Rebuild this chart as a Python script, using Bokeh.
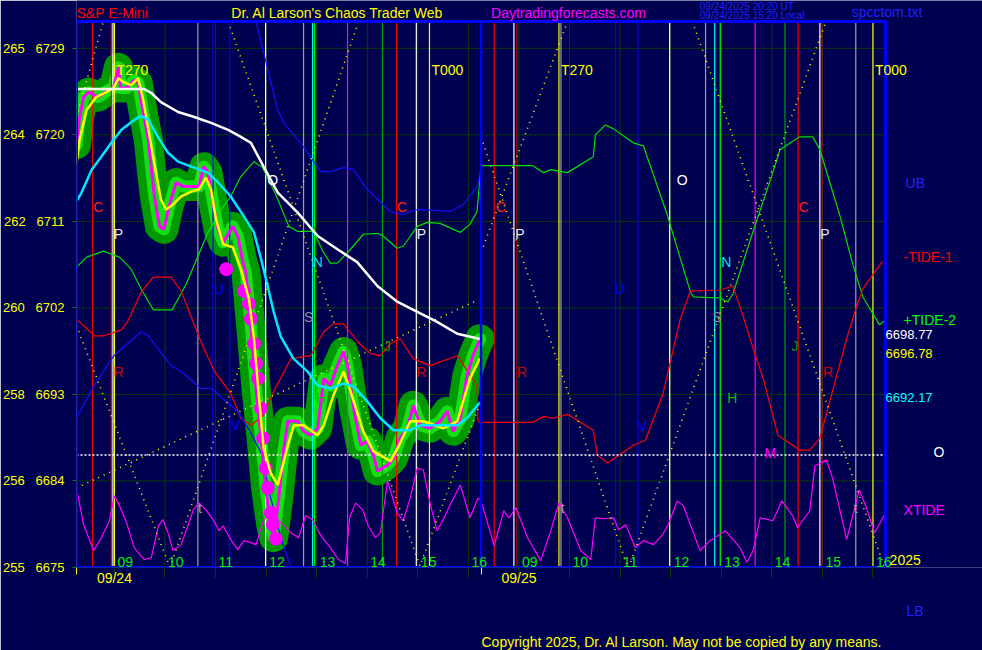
import numpy as np
from bokeh.plotting import figure
from bokeh.models import Range1d, FixedTicker, Title
from bokeh.core.properties import value
from bokeh.embed import file_html
from bokeh.resources import INLINE

FONT = "Liberation Sans"
BG = "#000050"

# ---------------- data (clock hours, prices) ----------------
price_ticks = [6675, 6684, 6693, 6702, 6711, 6720, 6729]
deg_ticks = [255, 256, 258, 260, 262, 264, 265]
hours = [9, 10, 11, 12, 13, 14, 15, 16]
day_labels = ["09/24", "09/25"]
chart_top = 6731.8

# long moving average (white)
white_t = [8.25, 9.59, 9.73, 9.92, 10.26, 10.58, 10.91, 11.25, 11.50, 11.70, 11.95, 12.23, 12.62,
           13.02, 13.41, 13.80, 14.20, 14.60, 14.99, 15.38, 15.78, 16.23]
white_v = [6724.76, 6724.76, 6724.35, 6723.41, 6722.38, 6721.86, 6721.24, 6720.52, 6719.79, 6719.17,
           6716.69, 6714.0, 6711.93, 6709.48, 6708.10, 6706.76, 6704.28, 6702.62, 6701.59, 6700.55,
           6699.31, 6698.77]

# short moving average (cyan)
cyan_t = [8.25, 8.35, 8.55, 8.74, 8.94, 9.14, 9.39, 9.53, 9.67, 9.86, 10.06, 10.26, 10.52, 10.85,
          11.05, 11.30, 11.56, 11.76, 11.90, 12.03, 12.15, 12.29, 12.54, 12.82, 13.02, 13.27, 13.53,
          13.73, 14.00, 14.26, 14.52, 14.85, 15.05, 15.50, 15.78, 15.97, 16.23]
cyan_v = [6713.07, 6714.0, 6716.38, 6717.72, 6719.17, 6720.52, 6721.55, 6721.97, 6721.55, 6719.79,
          6718.14, 6717.21, 6716.69, 6716.07, 6715.04, 6713.59, 6711.52, 6709.86, 6707.07, 6704.28,
          6701.59, 6699.0, 6696.72, 6695.38, 6693.93, 6693.62, 6694.14, 6693.83, 6692.28, 6690.52,
          6689.28, 6689.28, 6689.79, 6689.79, 6689.79, 6690.52, 6692.17]

# smoothed price (yellow)
yel_t = [8.25, 8.31, 8.45, 8.64, 8.84, 8.98, 9.08, 9.18, 9.33, 9.47, 9.57, 9.69, 9.83, 9.92, 10.02,
         10.16, 10.32, 10.52, 10.67, 10.81, 10.91, 11.01, 11.15, 11.34, 11.50, 11.66, 11.76, 11.86,
         11.95, 12.09, 12.23, 12.43, 12.55, 12.74, 13.02, 13.14, 13.33, 13.53, 13.67, 13.92, 14.12,
         14.46, 14.60, 14.85, 15.11, 15.50, 15.78, 16.03, 16.23]
yel_v = [6716.90, 6719.48, 6722.59, 6723.93, 6724.45, 6724.86, 6725.90, 6725.48, 6725.17, 6725.90,
         6723.62, 6720.0, 6715.86, 6713.28, 6712.24, 6712.76, 6713.59, 6714.10, 6714.31, 6715.55,
         6714.31, 6711.21, 6708.62, 6708.31, 6706.03, 6702.93, 6698.79, 6692.59, 6687.41, 6684.83,
         6683.59, 6687.72, 6689.79, 6689.79, 6688.76, 6689.79, 6692.90, 6695.38, 6693.31, 6689.17,
         6687.10, 6686.07, 6687.41, 6690.21, 6690.21, 6689.48, 6690.21, 6694.66, 6696.78]

# raw price (magenta)
px_t = [8.25, 8.31, 8.39, 8.49, 8.68, 8.88, 8.98, 9.08, 9.12, 9.24, 9.39, 9.47, 9.57, 9.67, 9.73,
        9.79, 9.89, 9.98, 10.08, 10.22, 10.36, 10.52, 10.67, 10.77, 10.85, 10.95, 11.05, 11.15,
        11.34, 11.44, 11.54, 11.60, 11.70, 11.80, 11.90, 11.99, 12.09, 12.15, 12.25, 12.35, 12.43,
        12.62, 12.74, 12.88, 13.02, 13.14, 13.27, 13.41, 13.53, 13.61, 13.73, 13.87, 14.00, 14.12,
        14.20, 14.40, 14.52, 14.65, 14.79, 14.91, 15.05, 15.24, 15.44, 15.58, 15.70, 15.84, 15.97,
        16.09, 16.23]
px_v = [6718.97, 6721.76, 6723.93, 6724.45, 6723.93, 6724.66, 6724.86, 6727.03, 6724.86, 6724.86,
        6725.69, 6725.38, 6722.28, 6719.48, 6716.38, 6713.59, 6710.48, 6710.17, 6712.55, 6715.04,
        6714.62, 6714.62, 6714.62, 6716.69, 6716.07, 6712.97, 6710.17, 6708.83, 6710.48, 6709.45,
        6706.76, 6705.72, 6699.83, 6693.62, 6688.45, 6683.28, 6679.45, 6678.10, 6682.24, 6687.41,
        6690.21, 6690.21, 6689.17, 6688.76, 6689.48, 6694.66, 6693.93, 6696.0, 6697.45, 6696.0,
        6691.55, 6687.72, 6688.14, 6686.69, 6685.03, 6685.66, 6686.38, 6688.45, 6689.48, 6691.86,
        6689.79, 6689.48, 6690.21, 6691.24, 6689.17, 6690.52, 6694.97, 6697.03, 6698.79]

# sell signal dots (magenta)
sig_t = [11.21, 11.56, 11.66, 11.70, 11.76, 11.80, 11.84, 11.90, 11.94, 11.99, 12.03, 12.09, 12.13, 12.19]
sig_v = [6706.03, 6703.76, 6702.41, 6700.86, 6698.28, 6696.21, 6694.66, 6691.55, 6688.45, 6685.34,
         6683.28, 6680.69, 6679.45, 6678.0]

# +TIDE-2 (green)
t2_d1_t = [8.25, 8.45, 8.78, 9.10, 9.33, 9.53, 9.77, 10.14, 10.42, 10.85, 11.11, 11.30, 11.50, 11.76,
           11.93, 12.19, 12.45, 12.62, 12.94, 13.12, 13.27, 13.41, 13.67, 13.92, 14.20, 14.32, 14.59,
           14.71, 14.85, 14.99, 15.19, 15.44, 15.84, 16.03, 16.17]
t2_d1_v = [6706.24, 6707.28, 6707.90, 6707.28, 6706.03, 6703.97, 6701.79, 6701.79, 6704.48, 6709.86,
           6712.24, 6713.59, 6715.66, 6717.21, 6716.59, 6713.79, 6710.48, 6709.97, 6709.97, 6707.90,
           6706.66, 6706.66, 6708.10, 6709.66, 6709.76, 6709.45, 6708.21, 6708.41, 6709.45, 6710.48,
           6710.90, 6710.79, 6709.86, 6710.69, 6712.03]
t2_d2_t = [8.25, 9.27, 9.49, 9.63, 9.96, 10.47, 10.51, 10.71, 10.87, 11.26, 11.46, 11.93, 12.39, 12.45,
           12.98, 13.13, 13.23, 13.63, 14.02, 14.16, 14.55, 14.81, 14.95, 15.34, 15.60, 15.80, 16.13, 16.23]
t2_d2_v = [6716.79, 6716.79, 6716.07, 6716.38, 6716.07, 6717.72, 6720.0, 6721.03, 6720.62, 6719.17,
           6718.86, 6711.72, 6703.66, 6703.14, 6703.03, 6702.62, 6703.45, 6709.97, 6716.07, 6718.45,
           6719.79, 6719.79, 6718.45, 6711.72, 6706.55, 6703.14, 6700.24, 6700.66]

# -TIDE-1 (red)
t1_d1_t = [8.25, 8.60, 8.80, 9.14, 9.27, 9.53, 9.77, 10.12, 10.32, 10.71, 10.97, 11.30, 11.50, 11.70,
           11.95, 12.15, 12.49, 12.88, 13.14, 13.33, 13.53, 13.81, 14.06, 14.26, 14.46, 14.65, 14.91,
           15.24, 15.78, 16.17, 16.19]
t1_d1_v = [6700.86, 6699.10, 6699.10, 6699.72, 6700.66, 6703.66, 6705.21, 6705.21, 6703.76, 6698.48,
           6695.48, 6693.10, 6690.52, 6689.79, 6690.83, 6693.31, 6696.72, 6697.03, 6699.52, 6700.34,
           6700.34, 6698.48, 6697.24, 6697.03, 6698.28, 6698.79, 6696.72, 6696.0, 6697.03, 6693.93,
           6690.21]
t1_d2_t = [8.25, 9.27, 9.49, 9.67, 9.96, 10.47, 10.55, 10.75, 11.26, 11.50, 11.85, 12.19, 12.39, 12.98,
           13.23, 13.43, 13.63, 13.83, 14.12, 14.55, 14.75, 14.95, 15.48, 15.60, 15.68, 15.80, 16.19]
t1_d2_v = [6690.10, 6690.10, 6690.72, 6690.52, 6690.93, 6689.28, 6686.69, 6685.86, 6687.72, 6688.24,
           6693.10, 6700.86, 6703.76, 6703.86, 6704.28, 6701.17, 6697.76, 6694.66, 6688.76, 6687.21,
           6687.21, 6688.45, 6698.79, 6700.86, 6702.21, 6703.97, 6706.86]

# upper / lower bands (blue)
ub_t = [11.80, 12.23, 12.35, 12.68, 13.08, 13.27, 13.53, 13.73, 14.00, 14.46, 14.71, 14.99, 15.64,
        15.90, 16.17, 16.21]
ub_v = [6731.79, 6722.59, 6721.24, 6719.17, 6716.17, 6716.17, 6716.59, 6716.38, 6714.31, 6712.03,
        6711.72, 6712.24, 6712.03, 6712.76, 6714.62, 6715.55]
lb_t = [8.25, 8.60, 8.99, 9.53, 9.67, 10.12, 10.32, 10.71, 10.91, 11.44, 11.70, 11.90, 12.09, 12.29, 12.49]
lb_v = [6690.52, 6693.93, 6697.03, 6699.52, 6699.10, 6696.0, 6695.38, 6693.62, 6693.62, 6691.24,
        6688.97, 6686.90, 6682.24, 6678.10, 6675.0]

# XTIDE (magenta oscillator, plotted on price scale)
xt_d1_t = [8.25, 8.39, 8.59, 8.74, 8.90, 9.0, 9.10, 9.24, 9.39, 9.59, 9.73, 9.87, 9.96, 10.06, 10.16,
           10.32, 10.44, 10.56, 10.67, 10.81, 10.95, 11.07, 11.15, 11.30, 11.44, 11.56, 11.70, 11.80,
           11.93, 12.09, 12.29, 12.49, 12.64, 12.78, 12.92, 13.08, 13.27, 13.43, 13.57, 13.65, 13.77,
           13.91, 14.02, 14.16, 14.26, 14.40, 14.59, 14.71, 14.85, 14.99, 15.11, 15.24, 15.38, 15.50,
           15.64, 15.84, 16.03, 16.19]
xt_d1_v = [6683.28, 6679.45, 6676.76, 6678.10, 6679.86, 6682.45, 6681.41, 6679.66, 6677.07, 6675.83,
           6676.03, 6679.34, 6679.97, 6678.62, 6676.76, 6677.38, 6679.14, 6681.0, 6681.72, 6681.0,
           6679.97, 6678.83, 6679.34, 6677.90, 6676.86, 6677.79, 6677.59, 6677.38, 6679.66, 6681.0,
           6679.66, 6678.62, 6678.10, 6680.38, 6679.97, 6678.31, 6677.07, 6675.83, 6675.41, 6680.17,
           6681.72, 6681.0, 6679.34, 6678.10, 6678.62, 6684.0, 6680.69, 6679.86, 6682.24, 6685.34,
           6685.14, 6681.72, 6678.83, 6679.97, 6681.52, 6683.59, 6680.17, 6682.24]
xt_d2_t = [8.25, 8.51, 8.70, 8.80, 8.94, 9.17, 9.43, 9.63, 9.79, 9.96, 10.22, 10.42, 10.51, 10.67,
           10.87, 10.97, 11.11, 11.30, 11.46, 11.66, 11.84, 11.95, 12.13, 12.25, 12.58, 12.78, 13.08,
           13.37, 13.51, 13.63, 13.77, 14.02, 14.20, 14.41, 14.51, 14.75, 14.85, 15.08, 15.20, 15.48,
           15.73, 15.87, 16.03, 16.23]
xt_d2_v = [6681.93, 6677.28, 6680.90, 6680.17, 6681.21, 6678.10, 6675.72, 6678.83, 6681.72, 6680.17,
           6676.76, 6675.83, 6680.17, 6680.07, 6680.17, 6678.93, 6679.45, 6677.07, 6677.79, 6677.38,
           6678.41, 6679.45, 6681.93, 6681.41, 6676.76, 6677.79, 6678.83, 6677.07, 6675.52, 6676.76,
           6680.17, 6679.86, 6681.93, 6680.38, 6679.14, 6680.90, 6685.55, 6686.17, 6684.31, 6677.90,
           6683.07, 6681.21, 6678.62, 6680.48]

# time/price dotted lines: (day, t0, v0, t1, v1)
tp_lines = [
    (1, 8.25, 6721.86, 8.78, 6731.79),
    (1, 8.25, 6700.14, 10.10, 6675.0),
    (1, 10.10, 6675.0, 13.83, 6731.79),
    (1, 11.25, 6731.79, 15.05, 6675.0),
    (1, 15.03, 6675.0, 16.23, 6692.07),
    (1, 8.25, 6683.28, 16.19, 6702.83),
    (2, 8.25, 6707.79, 9.96, 6731.79),
    (2, 8.29, 6719.17, 11.15, 6675.0),
    (2, 11.17, 6675.0, 15.07, 6731.79),
    (2, 12.43, 6731.79, 16.23, 6675.0),
]
open_level = 6686.7

# vertical time lines
vl_d1_t = [8.57, 8.94, 8.97, 9.0, 10.65, 10.95, 11.28, 11.99, 12.74, 12.92, 12.96, 13.61, 14.30,
           14.58, 14.97, 15.23]
vl_d1_c = ["#ff0000", "#ff0000", "#ffffff", "#ffff00", "#a0a0a0", "#0000ff", "#0000ff", "#ffffff",
           "#a0a0a0", "#00ffff", "#00ff00", "#ff00ff", "#00a000", "#ff0000", "#ffffff", "#ffff00"]
vl_d2_t = [8.51, 8.90, 8.96, 9.79, 9.83, 10.91, 11.35, 11.98, 12.69, 12.87, 12.98, 13.67, 14.26,
           14.52, 14.95, 14.99, 15.66, 16.0]
vl_d2_c = ["#ff0000", "#ffffff", "#c00000", "#ffff00", "#a0a0a0", "#0000ff", "#0000ff", "#ffffff",
           "#a0a0a0", "#00ffff", "#00ff00", "#ff00ff", "#00a000", "#ff0000", "#ffffff", "#c00000",
           "#a0a0a0", "#ffff00"]

# cycle markers
tmark_d1_t = [9.0, 15.23]
tmark_d1_s = ["T270", "T000"]
tmark_d2_t = [9.79, 16.0]
tmark_d2_s = ["T270", "T000"]
tmark_v = 6726.7

let_d1_t = [8.68, 9.08, 9.08, 11.07, 11.40, 10.69, 12.13, 13.02, 12.84, 13.08, 14.40, 14.69, 15.07, 15.07]
let_d1_v = [6712.45, 6709.66, 6695.38, 6703.97, 6689.79, 6681.21, 6715.35, 6706.76, 6701.07,
            6692.59, 6698.07, 6712.45, 6709.66, 6695.38]
let_d1_s = ["C", "P", "R", "U", "V", "t", "O", "N", "S", "H", "J", "C", "P", "R"]
let_d2_t = [8.64, 9.02, 9.06, 10.99, 11.44, 9.86, 12.23, 13.10, 12.92, 13.22, 14.46, 13.97, 14.63,
            15.05, 15.11, 15.66]
let_d2_v = [6712.45, 6709.66, 6695.38, 6703.97, 6689.69, 6681.21, 6715.35, 6706.76, 6701.07,
            6692.59, 6698.07, 6686.90, 6712.45, 6709.66, 6695.38, 6681.21]
let_d2_s = ["C", "P", "R", "U", "V", "t", "O", "N", "S", "H", "J", "M", "C", "P", "R", "t"]

# ---------------- helpers ----------------
def pos(day, ts):
    return [(day - 1) * 8 + t - 8.25 for t in ts]

letter_color = {"C": "#ff2020", "P": "#e8e8f0", "R": "#d00000", "U": "#0000ff", "V": "#0000ff",
                "t": "#a0a0a0", "O": "#ffffff", "N": "#00e0e0", "S": "#9090a8", "H": "#00c000",
                "J": "#00a000", "M": "#ff00ff"}

W, H = 982, 650
FL, FB = 75, 570            # frame left / plot-box bottom in page pixels
PXW = 810 / 16.0            # pixels per session hour
PYH = 549 / (chart_top - 6675)  # pixels per point


def sx(px):
    return (px - FL) / PXW


def sy(py):
    return 6675 + (FB - py) / PYH


# ---------------- figure ----------------
p = figure(width=W, height=H, min_border_left=FL, min_border_right=0,
           min_border_top=0, min_border_bottom=H - FB,
           x_range=Range1d(0, sx(W)), y_range=Range1d(6675, sy(0)),
           output_backend="svg", toolbar_location=None,
           background_fill_color=BG, border_fill_color=BG)
p.outline_line_color = None
p.grid.visible = False

hour_pos = pos(1, hours) + pos(2, hours)
p.xaxis.ticker = FixedTicker(ticks=hour_pos, minor_ticks=[0, 8])
overrides = {hp: "" for hp in hour_pos}
overrides[pos(1, [9])[0]] = day_labels[0]
overrides[pos(2, [9])[0]] = day_labels[1]
p.xaxis.major_label_overrides = overrides
p.xaxis.axis_line_color = None
p.xaxis.major_tick_line_color = "#0a3a0a"
p.xaxis.major_tick_out = 10
p.xaxis.major_tick_in = 0
p.xaxis.minor_tick_line_color = "#ffff00"
p.xaxis.minor_tick_out = 7
p.xaxis.minor_tick_in = 0
p.xaxis.major_label_standoff = -8
p.xaxis.major_label_text_color = "#ffff00"
p.xaxis.major_label_text_font = FONT
p.xaxis.major_label_text_font_size = "14px"

NB = "\u00a0"
p.yaxis.ticker = FixedTicker(ticks=price_ticks)
p.yaxis.major_label_overrides = {v: f"{d}{NB * 3}{v}" for d, v in zip(deg_ticks, price_ticks)}
p.yaxis.axis_line_color = None
p.yaxis.major_tick_line_color = "#008000"
p.yaxis.major_tick_out = 4
p.yaxis.major_tick_in = 0
p.yaxis.minor_tick_line_color = None
p.yaxis.major_label_standoff = 8
p.yaxis.major_label_text_color = "#ffff00"
p.yaxis.major_label_text_font = FONT
p.yaxis.major_label_text_font_size = "13px"

# grid inside the plot box
p.segment(x0=[0] * len(price_ticks), x1=[16] * len(price_ticks), y0=price_ticks, y1=price_ticks,
          line_color="#0a3a0a", line_width=1)
p.segment(x0=hour_pos, x1=hour_pos, y0=[6675] * len(hour_pos), y1=[chart_top] * len(hour_pos),
          line_color="#0a3a0a", line_width=1)

# price halo
xpx = pos(1, px_t)
p.line(xpx, px_v, line_width=29, line_color="#009a00", line_join="round", line_cap="round")
p.line(xpx, px_v, line_width=12, line_color="#14e014", line_join="round", line_cap="round")

# vertical time lines
vx = pos(1, vl_d1_t) + pos(2, vl_d2_t)
p.segment(x0=vx, x1=vx, y0=[6675] * len(vx), y1=[chart_top] * len(vx),
          line_color=vl_d1_c + vl_d2_c, line_width=1.2)

# tides and bands
p.line(pos(1, t2_d1_t) + pos(2, t2_d2_t), t2_d1_v + t2_d2_v, line_color="#00e000", line_width=1.2)
p.line(pos(1, t1_d1_t) + pos(2, t1_d2_t), t1_d1_v + t1_d2_v, line_color="#ff0000", line_width=1.2)
p.line(pos(1, ub_t), ub_v, line_color="#1010ff", line_width=1.2)
p.line(pos(1, lb_t), lb_v, line_color="#1010ff", line_width=1.2)
p.line(pos(1, xt_d1_t) + pos(2, xt_d2_t), xt_d1_v + xt_d2_v, line_color="#ff00ff", line_width=1.2)

# dotted time/price lines
for d, t0, v0, t1, v1 in tp_lines:
    xa, xb = pos(d, [t0, t1])
    p.line([xa, xb], [v0, v1], line_color="#ffff00", line_width=1.6, line_dash="1 5")
p.line([0, 16], [open_level, open_level], line_color="#ffffff", line_width=1.6, line_dash="2 2")

# price lines
p.line(xpx, px_v, line_color="#ff00ff", line_width=3)
p.scatter(pos(1, sig_t), sig_v, size=13, color="#ff00ff")
p.line(pos(1, yel_t), yel_v, line_color="#ffff00", line_width=2.5)
p.line(pos(1, cyan_t), cyan_v, line_color="#00e8ff", line_width=2.5)
p.line(pos(1, white_t), white_v, line_color="#ffffff", line_width=2.5)

# plot box border and day divider
p.quad(left=[0], right=[16], bottom=[6675], top=[chart_top], fill_color=None,
       line_color="#0000ff", line_width=3)
p.segment(x0=[8], x1=[8], y0=[6675], y1=[chart_top], line_color="#0000ff", line_width=2.5)

# hour labels inside the box
p.text(hour_pos, [6675] * len(hour_pos), text=[f"{h:02d}" for h in hours] * 2,
       text_color="#00ee00", text_font=value(FONT), text_font_size="14px",
       text_baseline="bottom", text_align="left", x_offset=3, y_offset=-1)

# cycle markers
p.text(pos(1, tmark_d1_t) + pos(2, tmark_d2_t), [tmark_v] * 4, text=tmark_d1_s + tmark_d2_s,
       text_color="#ffff00", text_font=value(FONT), text_font_size="14px",
       text_baseline="middle", text_align="left", x_offset=2)

# planet letters
for d, ts, vs, ss in [(1, let_d1_t, let_d1_v, let_d1_s), (2, let_d2_t, let_d2_v, let_d2_s)]:
    p.text(pos(d, ts), vs, text=ss, text_color=[letter_color[s] for s in ss],
           text_font=value(FONT), text_font_size="14px", text_baseline="middle", text_align="center")

# ---------------- header and side texts ----------------
side = [  # (page x, page y, text, color, size)
    (75, 13, "S&P E-Mini", "#ff0000", "14px"),
    (230, 13, "Dr. Al Larson's Chaos Trader Web", "#ffff00", "14px"),
    (490, 13, "Daytradingforecasts.com", "#ff00ff", "14px"),
    (699, 6, "09/24/2025 20:20 UT", "#2020ff", "10px"),
    (699, 15, "09/24/2025 15:20 Local", "#2020ff", "10px"),
    (851, 12, "spcctom.txt", "#2020ff", "14px"),
    (905, 183, "UB", "#2020ff", "14px"),
    (903, 258, "-TIDE-1", "#ff0000", "14px"),
    (903, 321, "+TIDE-2", "#00ff00", "14px"),
    (885, 336, f"{white_v[-1]:.2f}", "#ffffff", "13px"),
    (885, 355, f"{yel_v[-1]:.2f}", "#ffff00", "13px"),
    (885, 399, f"{cyan_v[-1]:.2f}", "#00ffff", "13px"),
    (933, 454, "O", "#ffffff", "14px"),
    (903, 512, "XTIDE", "#ff00ff", "14px"),
    (889, 562, "2025", "#ffff00", "14px"),
]
p.text([sx(s[0]) for s in side], [sy(s[1]) for s in side], text=[s[2] for s in side],
       text_color=[s[3] for s in side], text_font_size=[s[4] for s in side],
       text_font=value(FONT), text_baseline="middle", text_align="left")

# rows under the axis
p.add_layout(Title(text="LB", align="left", offset=830, text_color="#2020ff",
                   text_font=FONT, text_font_size="14px", text_font_style="normal",
                   standoff=25), "below")
p.add_layout(Title(text="Copyright 2025, Dr. Al Larson. May not be copied by any means.",
                   align="left", offset=405, text_color="#ffff00", text_font=FONT,
                   text_font_size="14px", text_font_style="normal", standoff=1), "below")

html = file_html(p, INLINE)
html = html.replace("<body>", f'<body style="background:{BG};">', 1)
open("out.html", "w").write(html)
